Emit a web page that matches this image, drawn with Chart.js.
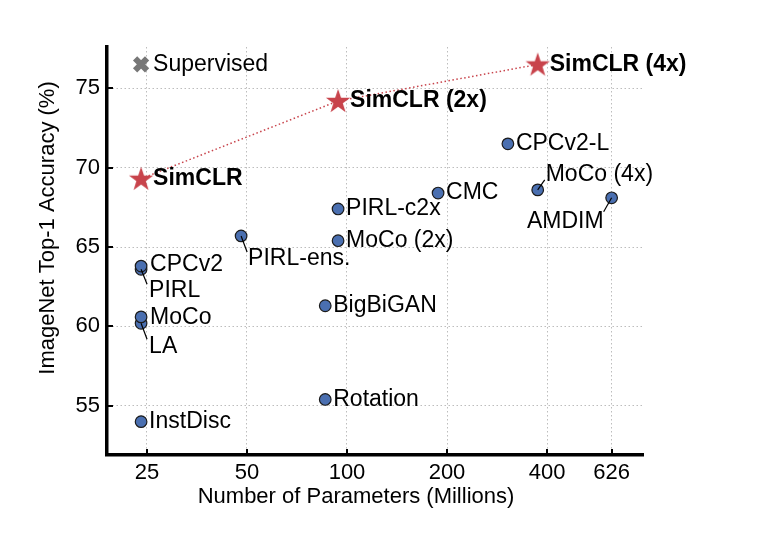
<html>
    <head>
        <meta charset="UTF-8">
        <title>ImageNet Top-1 Accuracy vs Parameters</title>

        <script src="https://cdn.jsdelivr.net/npm/chart.js"></script>

        <style>
            body { margin: 0; background: #fff; }
            .chart_container { width: 762px; height: 544px; }
        </style>
    </head>

    <body>
        <div class='chart_container'>
            <canvas id='accChart' width='762' height='544'></canvas>
        </div>

        <script>
            // baseline methods
            const methods = ['InstDisc', 'Rotation', 'BigBiGAN', 'LA', 'MoCo', 'PIRL', 'CPCv2', 'PIRL-ens.',
                             'MoCo (2x)', 'PIRL-c2x', 'CMC', 'MoCo (4x)', 'AMDIM', 'CPCv2-L'];
            const methodParams = [24, 86, 86, 24, 24, 24, 24, 48, 94, 94, 188, 375, 626, 305];
            const methodAcc = [54.0, 55.4, 61.3, 60.2, 60.6, 63.6, 63.8, 65.7, 65.4, 67.4, 68.4, 68.6, 68.1, 71.5];

            // SimCLR
            const simclrNames = ['SimCLR', 'SimCLR (2x)', 'SimCLR (4x)'];
            const simclrParams = [24, 94, 375];
            const simclrAcc = [69.3, 74.2, 76.5];

            // supervised reference
            const supervisedName = 'Supervised';
            const supervisedParams = 24;
            const supervisedAcc = 76.5;

            // axis ticks and titles
            const xTicks = [25, 50, 100, 200, 400, 626];
            const yTicks = [55, 60, 65, 70, 75];
            const xTitle = 'Number of Parameters (Millions)';
            const yTitle = 'ImageNet Top-1 Accuracy (%)';

            const FONT = "'Liberation Sans', Arial, Helvetica, sans-serif";
            const RED = '#c8434b';
            const BLUE = '#4a6fb0';

            // label placement (offsets from the marker, px)
            const placement = {
                'LA':        { dx: 8, dy: 23, lead: [6, 16] },
                'PIRL':      { dx: 8, dy: 21, lead: [6, 15] },
                'PIRL-ens.': { dx: 7, dy: 23, lead: [6, 16] },
                'MoCo (4x)': { dx: 8, dy: -15, lead: [7, -10] },
                'AMDIM':     { dx: -8, dy: 24, lead: [-8, 14], align: 'right' },
                'CPCv2':     { dx: 9, dy: -1 },
                'MoCo':      { dx: 9, dy: 1 }
            };

            function makeStar() {
                const c = document.createElement('canvas');
                c.width = 28;
                c.height = 28;
                const g = c.getContext('2d');
                g.beginPath();
                for (let i = 0; i < 10; i++) {
                    const r = i % 2 ? 5 : 12.8;
                    const a = -Math.PI / 2 + i * Math.PI / 5;
                    g.lineTo(14 + r * Math.cos(a), 14.8 + r * Math.sin(a));
                }
                g.closePath();
                g.fillStyle = RED;
                g.fill();
                return c;
            }

            const pointLabels = {
                id: 'pointLabels',
                afterDatasetsDraw(chart) {
                    const ctx = chart.ctx;
                    ctx.save();
                    ctx.textBaseline = 'middle';
                    chart.data.datasets.forEach((ds, di) => {
                        const meta = chart.getDatasetMeta(di);
                        meta.data.forEach((pt, i) => {
                            const name = ds.names[i];
                            const p = placement[name] || { dx: ds.labelDx, dy: 0 };
                            if (p.lead) {
                                ctx.strokeStyle = '#000';
                                ctx.lineWidth = 1.2;
                                ctx.beginPath();
                                ctx.moveTo(pt.x, pt.y);
                                ctx.lineTo(pt.x + p.lead[0], pt.y + p.lead[1]);
                                ctx.stroke();
                            }
                            ctx.font = (ds.boldLabels ? 'bold ' : '') + '23px ' + FONT;
                            ctx.fillStyle = '#000';
                            ctx.textAlign = p.align || 'left';
                            ctx.fillText(name, pt.x + p.dx, pt.y + p.dy);
                        });
                    });
                    ctx.restore();
                }
            };

            // short inward tick marks + axis titles (placed like the original figure)
            const axisDecor = {
                id: 'axisDecor',
                afterDraw(chart) {
                    const ctx = chart.ctx;
                    const xs = chart.scales.x;
                    const ys = chart.scales.y;
                    const a = chart.chartArea;
                    ctx.save();
                    ctx.strokeStyle = '#000';
                    ctx.lineWidth = 2;
                    ctx.beginPath();
                    xTicks.forEach(v => {
                        const px = Math.round(xs.getPixelForValue(v));
                        ctx.moveTo(px, a.bottom);
                        ctx.lineTo(px, a.bottom - 6);
                    });
                    yTicks.forEach(v => {
                        const py = Math.round(ys.getPixelForValue(v));
                        ctx.moveTo(a.left, py);
                        ctx.lineTo(a.left + 6, py);
                    });
                    ctx.stroke();

                    ctx.fillStyle = '#000';
                    ctx.font = '22px ' + FONT;
                    ctx.textAlign = 'center';
                    ctx.textBaseline = 'middle';
                    ctx.fillText(xTitle, a.left + 249, a.bottom + 42);
                    ctx.translate(48, a.top + 181);
                    ctx.rotate(-Math.PI / 2);
                    ctx.fillText(yTitle, 0, 0);
                    ctx.restore();
                }
            };

            function createChart() {
                const ctx = document.getElementById('accChart');

                const data = {
                    datasets: [
                        {
                            label: 'SimCLR',
                            names: simclrNames,
                            boldLabels: true,
                            labelDx: 12,
                            data: simclrParams.map((v, i) => ({ x: v, y: simclrAcc[i] })),
                            showLine: true,
                            borderColor: RED,
                            borderWidth: 1.5,
                            borderDash: [1.5, 2.5],
                            pointStyle: makeStar(),
                            order: 1
                        },
                        {
                            label: 'Supervised',
                            names: [supervisedName],
                            labelDx: 12,
                            data: [{ x: supervisedParams, y: supervisedAcc }],
                            pointStyle: 'crossRot',
                            pointRadius: 8.5,
                            borderWidth: 6,
                            borderColor: '#777777',
                            backgroundColor: '#777777',
                            order: 2
                        },
                        {
                            label: 'Others',
                            names: methods,
                            labelDx: 8,
                            data: methodParams.map((v, i) => ({ x: v, y: methodAcc[i] })),
                            pointRadius: 5.8,
                            backgroundColor: BLUE,
                            borderColor: '#1b1b1b',
                            borderWidth: 1.2,
                            order: 3
                        }
                    ]
                };

                const config = {
                    type: 'scatter',
                    data: data,
                    options: {
                        responsive: false,
                        animation: false,
                        layout: { padding: { top: 47, right: 119, left: 0, bottom: 0 } },
                        plugins: {
                            legend: { display: false },
                            tooltip: { enabled: false }
                        },
                        scales: {
                            x: {
                                type: 'logarithmic',
                                min: 18.95,
                                max: 778,
                                afterBuildTicks: (s) => { s.ticks = xTicks.map(v => ({ value: v })); },
                                afterFit: (s) => { s.height = 89; },
                                ticks: {
                                    autoSkip: false,
                                    maxRotation: 0,
                                    padding: 5,
                                    color: '#000',
                                    font: { family: FONT, size: 22 },
                                    callback: (v) => String(v)
                                },
                                grid: { color: '#bdbdbd', lineWidth: 1, drawTicks: false },
                                border: { display: true, color: '#000', width: 3.5, dash: [1.5, 2.5] }
                            },
                            y: {
                                min: 51.9,
                                max: 77.6,
                                afterBuildTicks: (s) => { s.ticks = yTicks.map(v => ({ value: v })); },
                                afterFit: (s) => { s.width = 107; },
                                ticks: {
                                    padding: 7,
                                    color: '#000',
                                    font: { family: FONT, size: 22 }
                                },
                                grid: { color: '#bdbdbd', lineWidth: 1, drawTicks: false },
                                border: { display: true, color: '#000', width: 3.5, dash: [1.5, 2.5] }
                            }
                        }
                    },
                    plugins: [pointLabels, axisDecor]
                };

                new Chart(ctx, config);
            }

            createChart();
        </script>
    </body>

</html>
